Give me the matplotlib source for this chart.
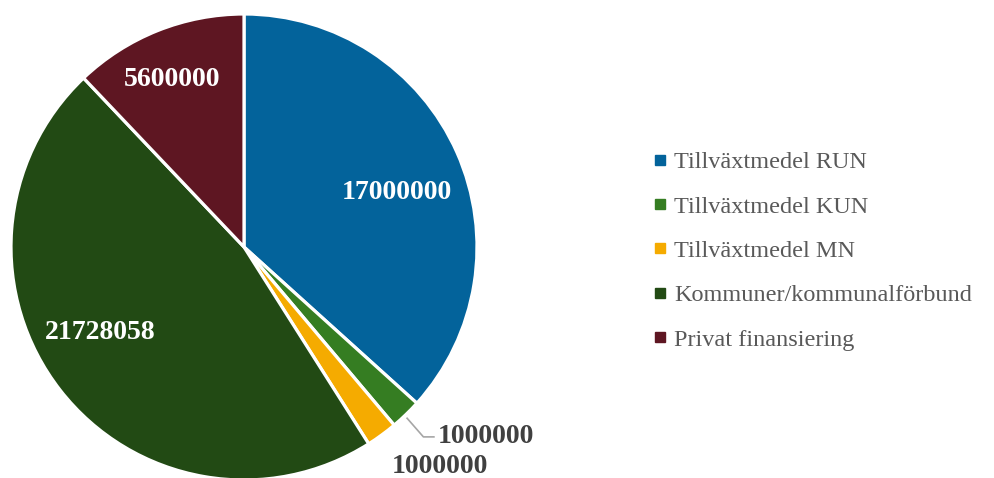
import numpy as np
import matplotlib

matplotlib.use("Agg")

import matplotlib.pyplot as plt
from matplotlib.lines import Line2D

categories = [
    "Tillväxtmedel RUN",
    "Tillväxtmedel KUN",
    "Tillväxtmedel MN",
    "Kommuner/kommunalförbund",
    "Privat finansiering",
]
values = [17000000, 1000000, 1000000, 21728058, 5600000]
colors = ["#03639B", "#357D22", "#F5AB00", "#224A14", "#5E1622"]

# label positions in pie units (radius = 1)
label_pos = [(0.655, 0.232), (0.83, -0.815), (0.84, -0.94),
             (-0.618, -0.369), (-0.31, 0.717)]


def main():
    plt.rcParams["font.family"] = ["Liberation Serif", "DejaVu Serif"]
    fig = plt.figure(figsize=(9.94, 4.78), dpi=100)

    # pie axes: centre ~ (244, 247) px, radius ~233 px
    r_px = 233
    cx, cy = 244, 247
    ax = fig.add_axes([(cx - r_px) / 994, (478 - cy - r_px) / 478,
                       2 * r_px / 994, 2 * r_px / 478])
    ax.pie(
        values,
        colors=colors,
        startangle=90,
        counterclock=False,
        radius=1,
        wedgeprops=dict(edgecolor="white", linewidth=2.3),
    )
    ax.set_xlim(-1, 1)
    ax.set_ylim(-1, 1)
    ax.set_aspect("equal")
    ax.axis("off")

    total = sum(values)
    for i, v in enumerate(values):
        x, y = label_pos[i]
        if v / total > 0.05:
            ax.text(x, y, f"{v}", ha="center", va="center",
                    color="white", fontsize=20, fontweight="bold")
        elif i == 1:
            ax.text(x, y, f"{v}", ha="left", va="center",
                    color="#404040", fontsize=20, fontweight="bold")
        else:
            ax.text(x, y, f"{v}", ha="center", va="center",
                    color="#404040", fontsize=20, fontweight="bold")

    # leader line for the small KUN slice
    ax.plot([0.70, 0.77, 0.815], [-0.735, -0.815, -0.815],
            color="#A6A6A6", lw=1.2, clip_on=False)

    handles = [Line2D([], [], marker="s", ls="", markersize=7,
                      markerfacecolor=c, markeredgecolor=c) for c in colors]
    fig.legend(handles, categories, loc="center left",
               bbox_to_anchor=(628 / 994, 0.475), frameon=False,
               fontsize=17.5, labelcolor="#595959", handletextpad=0.2,
               labelspacing=0.92, handlelength=0.8)

    fig.savefig("out.png", dpi=100)


if __name__ == "__main__":
    main()
